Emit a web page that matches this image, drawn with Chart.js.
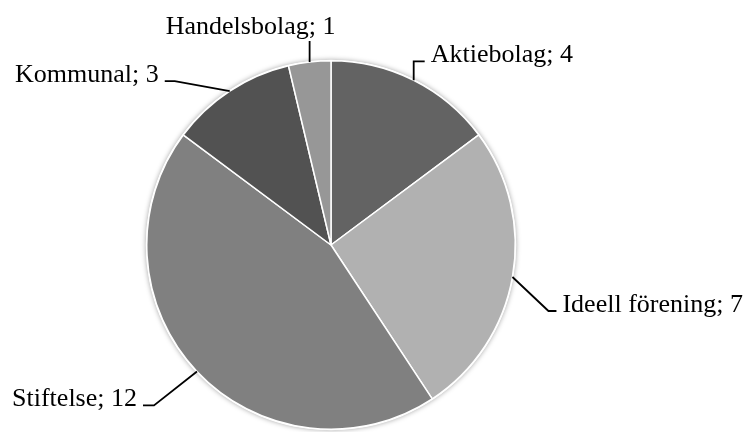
<!DOCTYPE html>
<html>
<head>
<meta charset="utf-8">
<script src="https://cdn.jsdelivr.net/npm/chart.js@4/dist/chart.umd.min.js"></script>
<style>
  html, body { margin: 0; padding: 0; background: #ffffff; }
  #wrap { width: 750px; height: 432px; }
</style>
</head>
<body>
<div id="wrap"><canvas id="c" width="750" height="432"></canvas></div>
<script>
const categories = ["Aktiebolag", "Ideell förening", "Stiftelse", "Kommunal", "Handelsbolag"];
const values = [4, 7, 12, 3, 1];
const colors = ["#636363", "#b1b1b1", "#808080", "#525252", "#979797"];

// leader layout per label: elbow offset from slice edge midpoint, horizontal tail direction/length
const leaderLayout = [
  { dx: 0,   dy: -19, tail: 11,  side: "right" },
  { dx: 36,  dy: 34,  tail: 8,   side: "right" },
  { dx: -43, dy: 34,  tail: -11, side: "left" },
  { dx: -55, dy: -10, tail: -10, side: "left" },
  { dx: 0,   dy: -21, tail: 0,   side: "top" }
];

const labelPlugin = {
  id: "pieLabels",
  beforeDatasetsDraw(chart) {
    const meta = chart.getDatasetMeta(0);
    const a = meta.data[0];
    if (!a) return;
    const ctx = chart.ctx;
    ctx.save();
    ctx.shadowColor = "rgba(0,0,0,0.35)";
    ctx.shadowBlur = 5;
    ctx.beginPath();
    ctx.arc(a.x, a.y, a.outerRadius + 1, 0, Math.PI * 2);
    ctx.fillStyle = "#ffffff";
    ctx.fill();
    ctx.restore();
  },
  afterDatasetsDraw(chart) {
    const meta = chart.getDatasetMeta(0);
    const ctx = chart.ctx;
    ctx.save();
    ctx.font = "26px 'Liberation Serif', 'Times New Roman', serif";
    ctx.fillStyle = "#000000";
    ctx.strokeStyle = "#000000";
    ctx.lineWidth = 1.8;
    ctx.lineJoin = "miter";
    meta.data.forEach((arc, i) => {
      const mid = (arc.startAngle + arc.endAngle) / 2;
      const r = arc.outerRadius;
      const ex = arc.x + Math.cos(mid) * r;
      const ey = arc.y + Math.sin(mid) * r;
      const L = leaderLayout[i];
      const bx = ex + L.dx, by = ey + L.dy;
      const tx = bx + L.tail;
      ctx.beginPath();
      ctx.moveTo(ex, ey);
      ctx.lineTo(bx, by);
      if (L.tail !== 0) ctx.lineTo(tx, by);
      ctx.stroke();
      const text = categories[i] + "; " + values[i];
      ctx.textBaseline = "alphabetic";
      if (L.side === "right") {
        ctx.textAlign = "left";
        ctx.fillText(text, tx + 6, by + 1);
      } else if (L.side === "left") {
        ctx.textAlign = "right";
        ctx.fillText(text, tx - 6, by + 1);
      } else {
        ctx.textAlign = "center";
        ctx.fillText(text, bx - 59, by - 7);
      }
    });
    ctx.restore();
  }
};

new Chart(document.getElementById("c"), {
  type: "pie",
  data: {
    labels: categories,
    datasets: [{
      data: values,
      backgroundColor: colors,
      borderColor: "#ffffff",
      borderWidth: 1.5
    }]
  },
  options: {
    responsive: false,
    animation: false,
    layout: { padding: { left: 146, right: 234, top: 60, bottom: 2 } },
    plugins: {
      legend: { display: false },
      tooltip: { enabled: false }
    }
  },
  plugins: [labelPlugin]
});
</script>
</body>
</html>
